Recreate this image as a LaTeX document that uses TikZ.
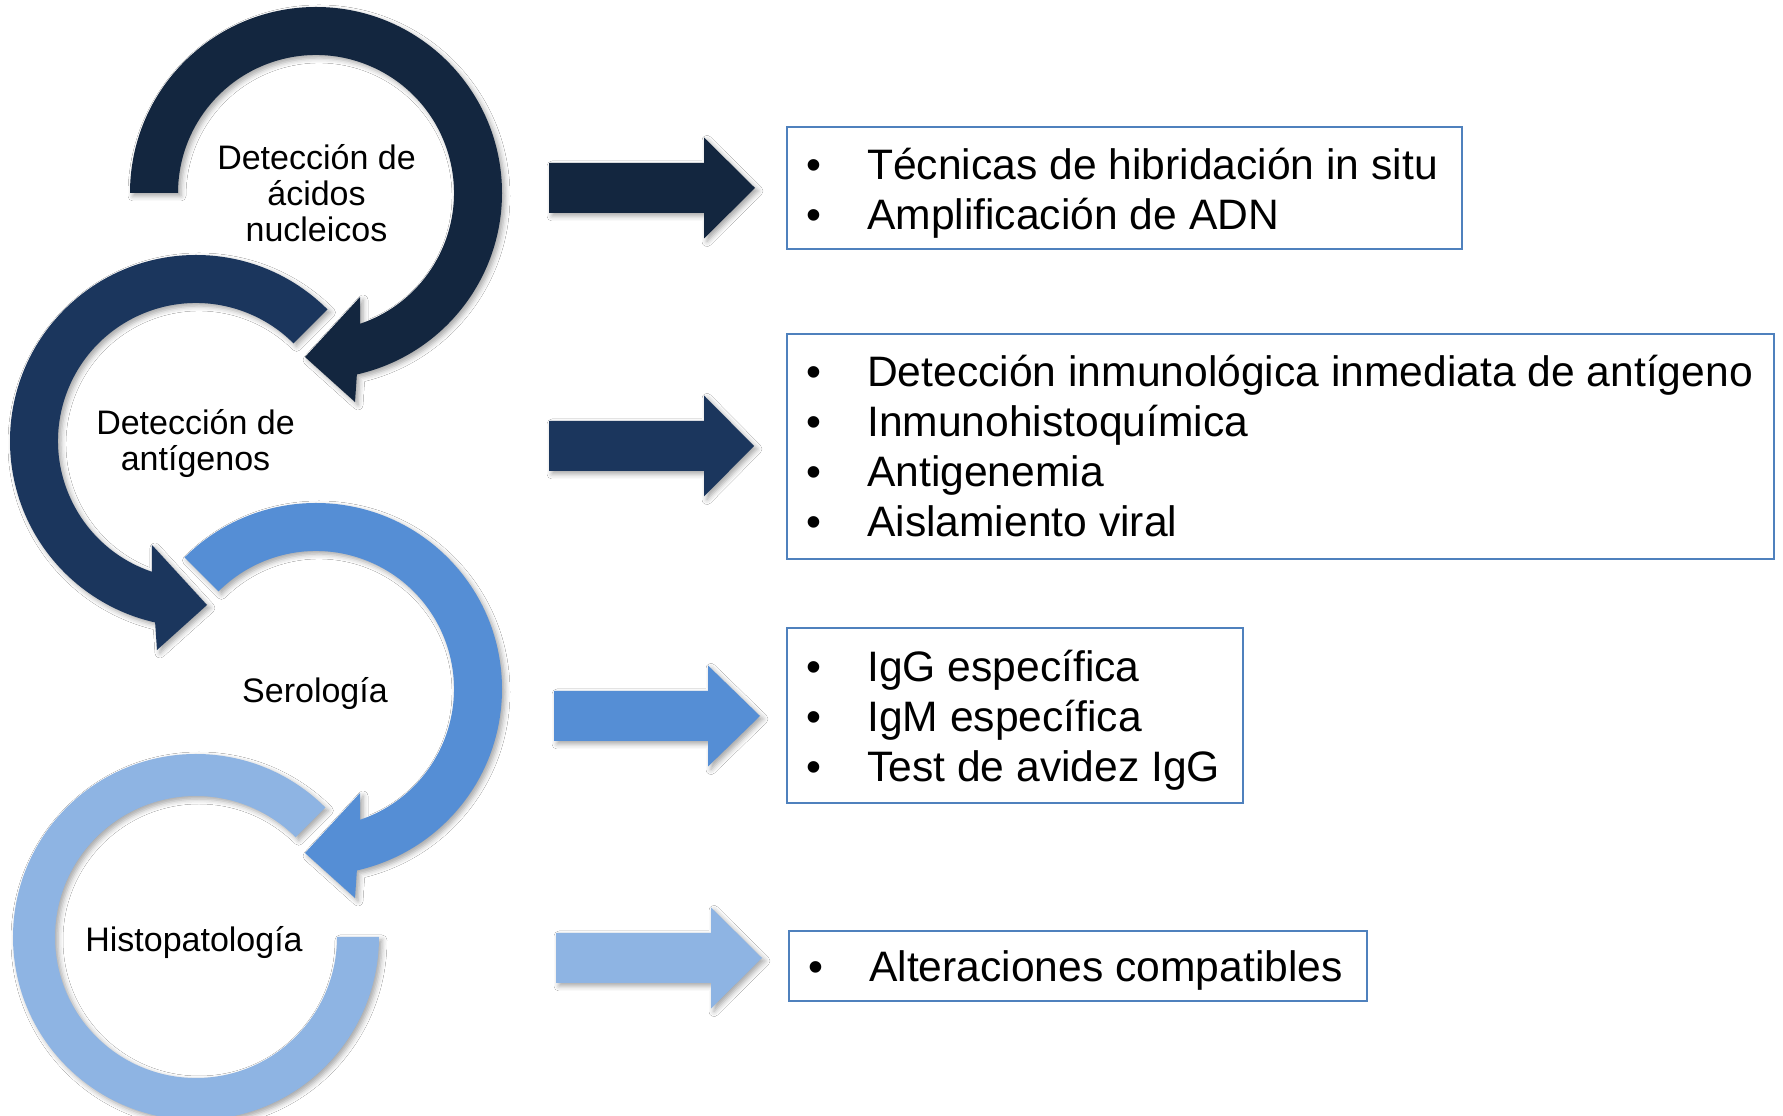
\documentclass[tikz,border=0pt]{standalone}
\usepackage{fontspec}
\setmainfont{Liberation Sans}
\usetikzlibrary{shadows.blur}
\definecolor{cA}{HTML}{13263F}
\definecolor{cB}{HTML}{1B365D}
\definecolor{cC}{HTML}{558ED5}
\definecolor{cD}{HTML}{8EB4E3}
\definecolor{boxblue}{HTML}{4F81BD}
\tikzset{
  sh/.style={blur shadow={shadow xshift=3pt, shadow yshift=-3pt, shadow blur radius=5pt, shadow opacity=35}},
  lbl/.style={font=\fontsize{34}{36}\selectfont, align=center, anchor=base, inner sep=0pt},
  listtxt/.style={font=\fontsize{42.6}{50}\selectfont, align=left, anchor=base west, inner sep=0pt},
  listbox/.style={draw=boxblue, line width=2pt, inner sep=0pt, fill=white},
}
\newcommand\barrow[5]{\fill[#5, sh] (#1,#4-25) -- (#2,#4-25) -- (#2,#4-50.5) -- (#3,#4) -- (#2,#4+50.5) -- (#2,#4+25) -- (#1,#4+25) -- cycle;}
\newcommand\bul{\makebox[61pt][l]{•}}
\begin{document}
\begin{tikzpicture}[x=1pt,y=1pt]
\useasboundingbox (0,0) rectangle (1783,1116);
\fill[white] (0,0) rectangle (1783,1116);

% circle 4 (Histopatologia)
\begin{scope}[shift={(196,179)}]
\fill[cD, sh] (45:183) arc[start angle=45, end angle=360, radius=183] -- (141,0) arc[start angle=360, end angle=45, radius=141] -- cycle;
\end{scope}
% circle 3 (Serologia)
\begin{scope}[shift={(316,427)}]
\fill[cC, sh] (135:186) arc[start angle=135, end angle=-77.3, radius=186] -- (39,-209) -- (-11,-164) -- (44,-104) -- (-71.3:138) arc[start angle=-71.3, end angle=135, radius=138] -- cycle;
\end{scope}
% circle 2 (antigenos)
\begin{scope}[shift={(196,675)}]
\fill[cB, sh] (45:186) arc[start angle=45, end angle=257.3, radius=186] -- (-39,-209) -- (11,-164) -- (-44,-104) -- (251.3:138) arc[start angle=251.3, end angle=45, radius=138] -- cycle;
\end{scope}
% circle 1 (acidos nucleicos)
\begin{scope}[shift={(316,923)}]
\fill[cA, sh] (180:186) arc[start angle=180, end angle=-77.3, radius=186] -- (39,-209) -- (-11,-164) -- (44,-104) -- (-71.3:138) arc[start angle=-71.3, end angle=180, radius=138] -- cycle;
\end{scope}

% labels (base = baseline of last line)
\node[lbl] (l1) at (316.5,874) {Detección de\\ácidos\\nucleicos};
\node[lbl] (l2) at (195.5,645) {Detección de\\antígenos};
\node[lbl] (l3) at (315,413) {Serología};
\node[lbl] (l4) at (194,164) {Histopatología};

% block arrows
\barrow{549}{704}{755}{928}{cA}
\barrow{549}{704}{754}{670}{cB}
\barrow{554}{708}{760}{400}{cC}
\barrow{556}{711}{762}{158}{cD}

% boxes
\node[listbox, minimum width=675, minimum height=122] (b1) at (1124.5,928) {};
\node[listbox, minimum width=987, minimum height=225] (b2) at (1280.5,669.5) {};
\node[listbox, minimum width=456, minimum height=175] (b3) at (1015,400.5) {};
\node[listbox, minimum width=578, minimum height=70] (b4) at (1078,150) {};

\node[listtxt] (t1) at (806,886) {\bul Técnicas de hibridación in situ\\\bul Amplificación de ADN};
\node[listtxt] (t2) at (806,579) {\bul Detección inmunológica inmediata de antígeno\\\bul Inmunohistoquímica\\\bul Antigenemia\\\bul Aislamiento viral};
\node[listtxt] (t3) at (806,334) {\bul IgG específica\\\bul IgM específica\\\bul Test de avidez IgG};
\node[listtxt] (t4) at (808,134) {\bul Alteraciones compatibles};
\end{tikzpicture}
\end{document}
